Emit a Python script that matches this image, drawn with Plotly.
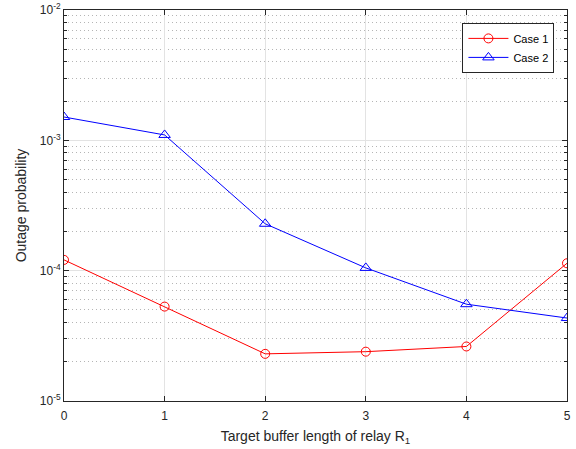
import plotly.graph_objects as go

x_vals = [0, 1, 2, 3, 4, 5]
case1 = [1.21e-4, 5.3e-5, 2.3e-5, 2.39e-5, 2.62e-5, 1.14e-4]
case2 = [1.51e-3, 1.1e-3, 2.29e-4, 1.05e-4, 5.53e-5, 4.33e-5]
y_tickvals = [1e-5, 1e-4, 1e-3, 1e-2]
y_ticktext = ["10<sup>-5</sup>", "10<sup>-4</sup>", "10<sup>-3</sup>", "10<sup>-2</sup>"]

fig = go.Figure()
fig.add_trace(go.Scatter(x=x_vals, y=case1, mode="lines+markers", name="Case 1",
                         line=dict(color="#ff0000", width=1),
                         marker=dict(symbol="circle-open", size=9, color="#ff0000", line=dict(width=1))))
fig.add_trace(go.Scatter(x=x_vals, y=case2, mode="lines+markers", name="Case 2",
                         line=dict(color="#0000ff", width=1),
                         marker=dict(symbol="triangle-up-open", size=10, color="#0000ff", line=dict(width=1))))

axis_common = dict(showline=True, linecolor="#262626", linewidth=1, mirror="ticks",
                   ticks="inside", tickcolor="#262626", ticklen=5,
                   tickfont=dict(family="Liberation Sans, Arial", size=12, color="#262626"),
                   gridcolor="#e3e3e3", gridwidth=1, zeroline=False, automargin=False)

fig.update_layout(
    width=576, height=449,
    margin=dict(l=64, r=9, t=10, b=48),
    paper_bgcolor="white", plot_bgcolor="white",
    font=dict(family="Liberation Sans, Arial", size=12, color="#262626"),
    xaxis=dict(range=[0, 5], dtick=1, ticklabelstandoff=4,
               title=dict(text="Target buffer length of relay R<sub>1</sub>", font=dict(size=14), standoff=8),
               **axis_common),
    yaxis=dict(type="log", range=[-5, -2], tickvals=y_tickvals, ticktext=y_ticktext,
               title=dict(text="Outage probability", font=dict(size=14), standoff=9),
               minor=dict(dtick="D1", showgrid=True, griddash="1px,3px", gridcolor="#b5b5b5",
                          ticks="inside", ticklen=3, tickcolor="#262626"),
               **axis_common),
    legend=dict(x=0.975, y=0.967, xanchor="right", yanchor="top",
                bgcolor="white", bordercolor="#262626", borderwidth=1, itemwidth=40,
                font=dict(size=11, color="#000000"), tracegroupgap=0),
    showlegend=True,
)

fig.write_html("out.html", config={"displayModeBar": False},
               post_script="document.body.style.margin='0';document.body.style.padding='0';")
